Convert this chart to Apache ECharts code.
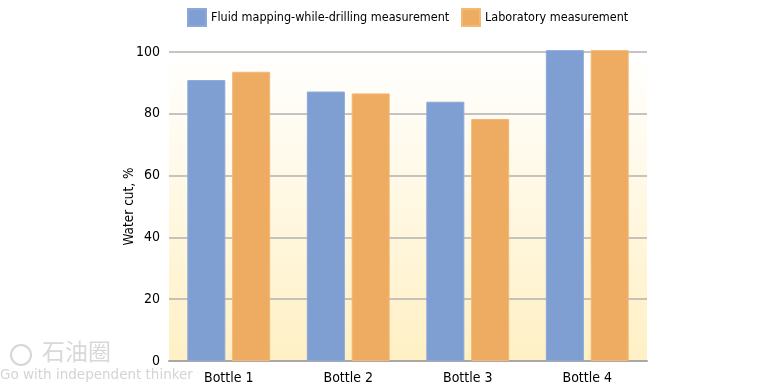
<!DOCTYPE html>
<html><head><meta charset="utf-8">
<script src="https://cdn.jsdelivr.net/npm/echarts@6/dist/echarts.min.js"></script>
<style>html,body{margin:0;padding:0;background:#fff}#c{width:775px;height:388px}</style>
</head><body><div id="c"></div>
<script>
const categories = ['Bottle 1', 'Bottle 2', 'Bottle 3', 'Bottle 4'];
const seriesNames = ['Fluid mapping-while-drilling measurement', 'Laboratory measurement'];
const fmwdValues = [90.9, 87.2, 83.9, 100.6];
const labValues = [93.6, 86.6, 78.3, 100.6];
const yTicks = [0, 20, 40, 60, 80, 100];

const FONT = '"DejaVu Sans Condensed", sans-serif';
const legendText = {fontFamily: FONT, fontSize: 12.5, color: '#000'};
const chart = echarts.init(document.getElementById('c'), null, {renderer: 'canvas'});
chart.setOption({
  animation: false,
  textStyle: {fontFamily: FONT},
  legend: [
    {top: 8, left: 187, padding: 0, itemWidth: 18, itemHeight: 17, itemGap: 6, icon: 'rect',
     textStyle: legendText, data: [seriesNames[0]], selectedMode: false},
    {top: 8, left: 461, padding: 0, itemWidth: 18, itemHeight: 17, icon: 'rect',
     textStyle: legendText, data: [seriesNames[1]], selectedMode: false}
  ],
  grid: {
    left: 169, right: 128, top: 52, bottom: 27,
    show: true, borderWidth: 0,
    backgroundColor: new echarts.graphic.LinearGradient(0, 0, 0, 1, [
      {offset: 0, color: '#ffffff'},
      {offset: 1, color: '#fff0c4'}
    ])
  },
  xAxis: {
    type: 'category', data: categories,
    axisLine: {lineStyle: {color: '#a8a8a8', width: 2}},
    axisTick: {show: false},
    axisLabel: {fontFamily: FONT, fontSize: 14, color: '#000', margin: 10}
  },
  yAxis: {
    type: 'value', min: 0, max: 100, interval: 20,
    name: 'Water cut, %', nameLocation: 'middle', nameGap: 33, nameMoveOverlap: false,
    nameTextStyle: {fontFamily: FONT, fontSize: 13.5, color: '#000'},
    axisLine: {show: false}, axisTick: {show: false},
    axisLabel: {fontFamily: FONT, fontSize: 14, color: '#000', margin: 9,
      formatter: v => yTicks.includes(v) ? String(v) : ''},
    splitLine: {lineStyle: {color: '#b0b0b0', width: 1.5}}
  },
  series: [
    {name: seriesNames[0], type: 'bar', data: fmwdValues, barWidth: 38, barGap: '18%', clip: false,
     itemStyle: {color: '#7f9fd3', borderColor: '#8aa8da', borderWidth: 1}},
    {name: seriesNames[1], type: 'bar', data: labValues, barWidth: 38, clip: false,
     itemStyle: {color: '#eeab62', borderColor: '#f3b872', borderWidth: 1}}
  ],
  graphic: [
    {type: 'circle', shape: {cx: 21, cy: 355, r: 10}, style: {fill: 'none', stroke: '#d6d6d6', lineWidth: 2}},
    {type: 'text', left: 42, top: 340, style: {text: '石油圈', fontFamily: '"Noto Sans CJK SC", sans-serif', fontSize: 23, fill: '#d8d8d8'}},
    {type: 'text', left: 0, top: 368, style: {text: 'Go with independent thinker', fontFamily: '"DejaVu Sans", sans-serif', fontSize: 13.5, fill: '#d4d4d4'}}
  ]
});
</script></body></html>
